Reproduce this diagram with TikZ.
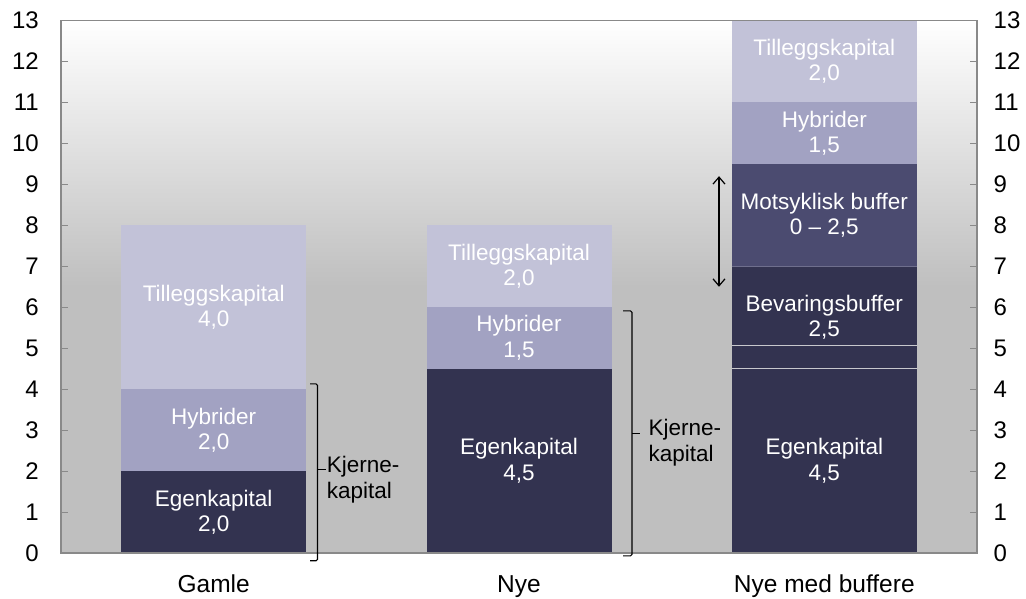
\documentclass[tikz,border=0pt]{standalone}
\usepackage{fontspec}
\setmainfont{Liberation Sans}
\usetikzlibrary{arrows.meta}

\definecolor{egen}{RGB}{51,51,80}
\definecolor{motsyk}{RGB}{75,75,112}
\definecolor{hybrid}{RGB}{162,162,194}
\definecolor{tillegg}{RGB}{194,194,216}
\definecolor{plotgray}{RGB}{191,191,191}
\definecolor{framegray}{RGB}{137,137,137}
\definecolor{sepgray}{RGB}{200,200,205}

% one stacked segment: name, left x, from, to, colour, label
\newcommand\barseg[6]{%
  \fill[#5] (#2,#3) rectangle (#2+185,#4);
  \node[seglabel] (#1) at (#2+92.5,{(#3+#4)/2}) {#6};
}

\begin{document}
\begin{tikzpicture}[x=1pt,y=1pt,
  seglabel/.style={text=white,align=center,inner sep=0pt,
    font=\fontsize{22.5}{25.5}\selectfont},
  axlabel/.style={inner sep=0pt,font=\fontsize{24}{28}\selectfont},
  catlabel/.style={inner sep=0pt,anchor=base,font=\fontsize{24.5}{28}\selectfont},
  bracetext/.style={inner sep=0pt,anchor=north west,align=left,
    font=\fontsize{22.5}{26}\selectfont},
  bracket/.style={draw=black,line width=1.1pt,rounded corners=1.5pt},
  tick/.style={draw=framegray,line width=1pt},
]
\useasboundingbox (0,0) rectangle (1026,598);

% plot area: gradient in the upper half, flat grey below
\fill[plotgray] (61,45) rectangle (977,312);
\shade[top color=white,bottom color=plotgray] (61,311.5) rectangle (977,577.5);

\begin{scope}[yshift=45pt,y=40.96pt]
  % Gamle
  \barseg{g-egen}{121.2}{0}{2}{egen}{Egenkapital\\2,0}
  \barseg{g-hyb}{121.2}{2}{4}{hybrid}{Hybrider\\2,0}
  \barseg{g-till}{121.2}{4}{8}{tillegg}{Tilleggskapital\\4,0}
  % Nye
  \barseg{n-egen}{426.5}{0}{4.5}{egen}{Egenkapital\\4,5}
  \barseg{n-hyb}{426.5}{4.5}{6}{hybrid}{Hybrider\\1,5}
  \barseg{n-till}{426.5}{6}{8}{tillegg}{Tilleggskapital\\2,0}
  % Nye med buffere
  \barseg{b-egen}{731.8}{0}{4.5}{egen}{Egenkapital\\4,5}
  \barseg{b-bev}{731.8}{4.5}{7}{egen}{Bevaringsbuffer\\2,5}
  \barseg{b-mot}{731.8}{7}{9.5}{motsyk}{Motsyklisk buffer\\0 -- 2,5}
  \barseg{b-hyb}{731.8}{9.5}{11}{hybrid}{Hybrider\\1,5}
  \barseg{b-till}{731.8}{11}{13}{tillegg}{Tilleggskapital\\2,0}
  \draw[sepgray,line width=0.8pt] (731.8,4.5) -- ++(185,0);
  \draw[sepgray,line width=0.8pt] (731.8,5.08) -- ++(185,0);
  \draw[motsyk!80!white,line width=0.5pt] (731.8,7) -- ++(185,0);

  % frame and ticks
  \draw[framegray,line width=1.6pt] (61,0) rectangle (977,13);
  \foreach \v in {1,...,12} {
    \draw[tick] (61,\v) -- (68,\v);
    \draw[tick] (970,\v) -- (977,\v);
  }
  \foreach \v in {0,...,13} {
    \node[axlabel,anchor=east] (yl\v) at (39,\v) {\v};
    \node[axlabel,anchor=west] (yr\v) at (993.5,\v) {\v};
  }

  % Kjernekapital brackets
  \coordinate (ga) at (310,4.13);
  \coordinate (gb) at (317.5,4.13);
  \coordinate (gc) at (317.5,-0.19);
  \coordinate (gd) at (310,-0.19);
  \coordinate (gm) at (317.5,2.03);
  \coordinate (ge) at (326,2.03);
  \draw[bracket] (ga) -- (gb) -- (gc) -- (gd);
  \draw[bracket] (gm) -- (ge);
  \node[bracetext] (gk) at (326.7,2.37) {Kjerne-\\kapital};

  \coordinate (na) at (623,5.91);
  \coordinate (nb) at (632,5.91);
  \coordinate (nc) at (632,-0.07);
  \coordinate (nd) at (623,-0.07);
  \coordinate (nm) at (632,2.92);
  \coordinate (ne) at (640,2.92);
  \draw[bracket] (na) -- (nb) -- (nc) -- (nd);
  \draw[bracket] (nm) -- (ne);
  \node[bracetext] (nk) at (648.5,3.27) {Kjerne-\\kapital};

  % range of the countercyclical buffer
  \coordinate (at) at (719,9.2);
  \coordinate (ab) at (719,6.5);
  \draw[line width=1.2pt,{Straight Barb[length=7pt,width=12pt]}-{Straight Barb[length=7pt,width=12pt]}] (at) -- (ab);
\end{scope}

% category labels
\node[catlabel] (c1) at (213.7,5.5) {Gamle};
\node[catlabel] (c2) at (519,5.5) {Nye};
\node[catlabel] (c3) at (824.3,5.5) {Nye med buffere};
\end{tikzpicture}
\end{document}
